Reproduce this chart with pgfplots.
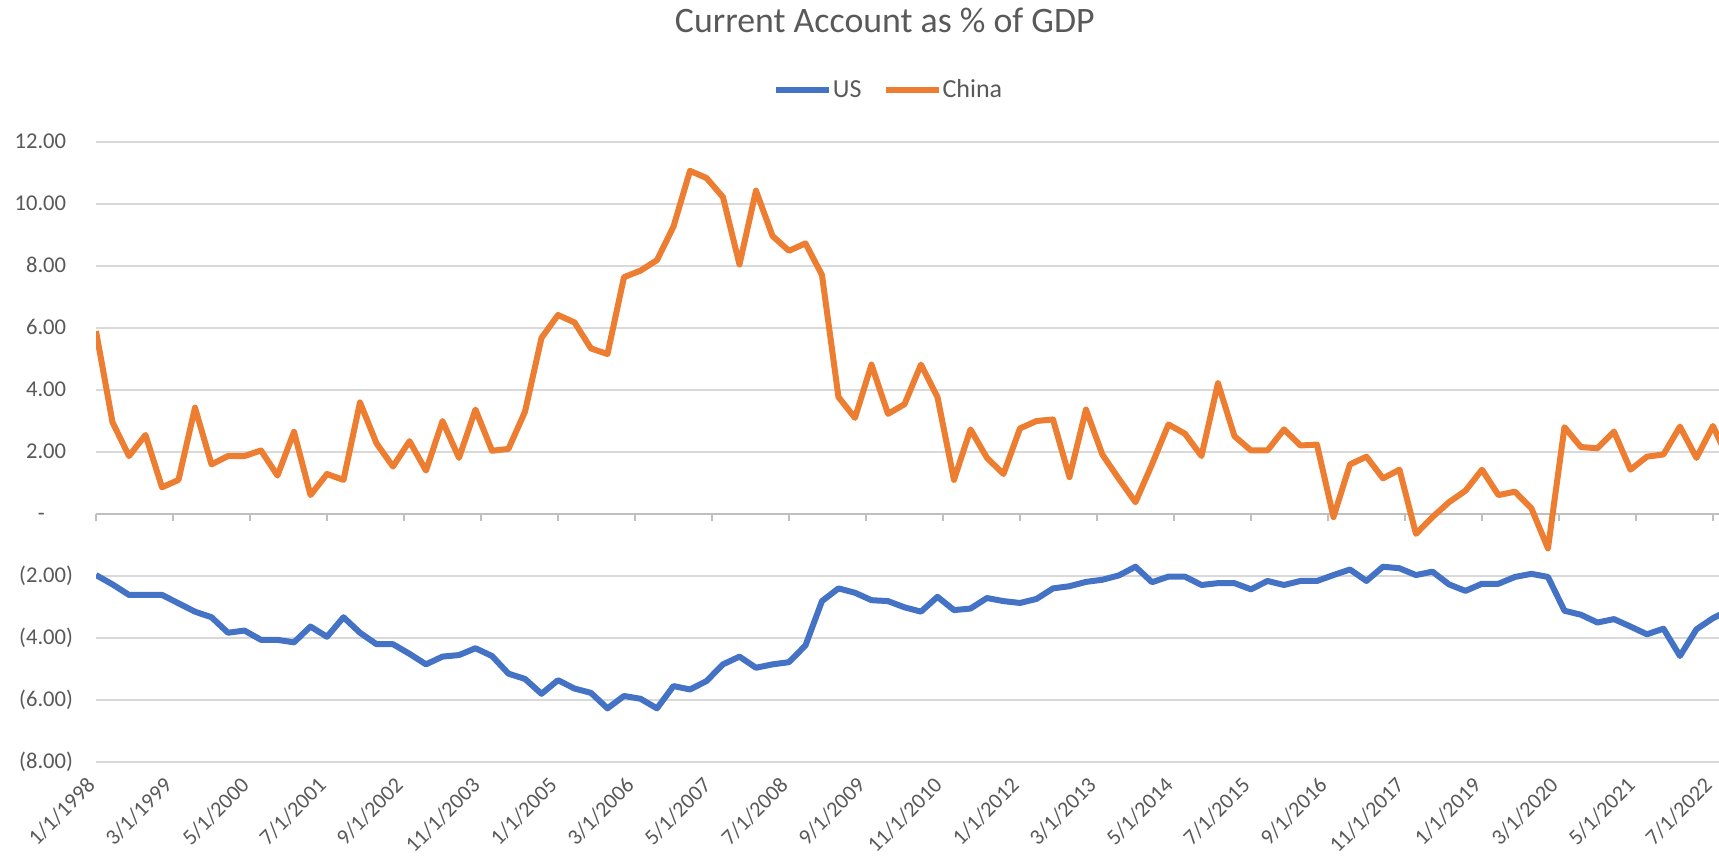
\documentclass[border=0pt]{standalone}
\usepackage{fontspec}
\setmainfont{Carlito}
\usepackage{pgfplots}
\usepackage{pgfplotstable}
\pgfplotsset{compat=1.18}
\definecolor{usblue}{HTML}{4472C4}
\definecolor{cnorange}{HTML}{ED7D31}
\definecolor{txtgray}{HTML}{595959}
\definecolor{gridgray}{HTML}{D9D9D9}
\definecolor{axisgray}{HTML}{BFBFBF}

\pgfplotstableread{
m us china
0 -1.97 5.90
3 -2.27 2.96
6 -2.61 1.87
9 -2.61 2.55
12 -2.61 0.86
15 -2.88 1.10
18 -3.15 3.43
21 -3.33 1.60
24 -3.83 1.87
27 -3.76 1.87
30 -4.06 2.05
33 -4.06 1.24
36 -4.14 2.65
39 -3.63 0.61
42 -3.96 1.29
45 -3.33 1.10
48 -3.83 3.60
51 -4.20 2.28
54 -4.20 1.53
57 -4.51 2.35
60 -4.85 1.40
63 -4.60 3.00
66 -4.55 1.81
69 -4.33 3.37
72 -4.58 2.04
75 -5.15 2.10
78 -5.32 3.30
81 -5.80 5.68
84 -5.36 6.42
87 -5.63 6.18
90 -5.77 5.34
93 -6.27 5.16
96 -5.87 7.64
99 -5.96 7.85
102 -6.27 8.19
105 -5.55 9.27
108 -5.66 11.07
111 -5.39 10.84
114 -4.85 10.22
117 -4.60 8.05
120 -4.96 10.43
123 -4.85 8.97
126 -4.78 8.49
129 -4.24 8.73
132 -2.81 7.71
135 -2.40 3.77
138 -2.54 3.10
141 -2.78 4.82
144 -2.81 3.23
147 -3.01 3.54
150 -3.15 4.82
153 -2.67 3.77
156 -3.10 1.10
159 -3.05 2.73
162 -2.71 1.81
165 -2.81 1.29
168 -2.87 2.76
171 -2.74 3.00
174 -2.40 3.05
177 -2.33 1.19
180 -2.19 3.37
183 -2.12 1.91
186 -1.98 1.13
189 -1.70 0.38
192 -2.20 1.60
195 -2.02 2.89
198 -2.02 2.59
201 -2.29 1.87
204 -2.23 4.22
207 -2.23 2.51
210 -2.43 2.05
213 -2.16 2.05
216 -2.29 2.73
219 -2.16 2.21
222 -2.16 2.24
225 -1.97 -0.10
228 -1.79 1.60
231 -2.16 1.85
234 -1.70 1.15
237 -1.75 1.43
240 -1.97 -0.64
243 -1.86 -0.10
246 -2.27 0.38
249 -2.48 0.75
252 -2.25 1.43
255 -2.25 0.61
258 -2.03 0.72
261 -1.93 0.18
264 -2.03 -1.11
267 -3.12 2.80
270 -3.25 2.16
273 -3.50 2.12
276 -3.39 2.66
279 -3.63 1.43
282 -3.88 1.85
285 -3.70 1.92
288 -4.58 2.82
291 -3.72 1.81
294 -3.36 2.84
297 -3.10 1.70
}\cadata

\begin{document}
\begin{tikzpicture}
\path[use as bounding box] (-48pt,-51pt) rectangle (811.5pt,381pt);
% zero axis line with tick marks
\begin{axis}[
  width=811.5pt, height=310pt, scale only axis,
  xmin=0, xmax=295.1, ymin=-8, ymax=12,
  axis x line=middle, axis y line=none,
  x axis line style={-, color=axisgray, line width=1pt},
  xtick={0,14,...,294}, xticklabels={},
  ytick=\empty,
  major tick length=3.5pt,
  x tick style={color=axisgray, line width=1pt, yshift=-1.75pt},
]
\addplot[draw=none] coordinates {(0,0)};
\end{axis}
% main axis
\begin{axis}[
  width=811.5pt, height=310pt, scale only axis,
  xmin=0, xmax=295.1, ymin=-8, ymax=12,
  axis lines=left,
  axis line style={draw=none},
  major tick length=0pt,
  ytick={-8,-6,-4,-2,2,4,6,8,10,12},
  yticklabels={(8.00),(6.00),(4.00),(2.00),2.00\phantom{)},4.00\phantom{)},6.00\phantom{)},8.00\phantom{)},10.00\phantom{)},12.00\phantom{)}},
  extra y ticks={0},
  extra y tick labels={-\hspace{0.95em}\phantom{)}},
  extra y tick style={grid=none},
  ymajorgrids,
  grid style={gridgray, line width=1pt},
  yticklabel style={anchor=east, inner sep=0pt, xshift=-11.3pt, font=\fontsize{11.3}{13}\selectfont, text=txtgray},
  xtick={0,14,...,294},
  xticklabels={1/1/1998,3/1/1999,5/1/2000,7/1/2001,9/1/2002,11/1/2003,1/1/2005,3/1/2006,5/1/2007,7/1/2008,9/1/2009,11/1/2010,1/1/2012,3/1/2013,5/1/2014,7/1/2015,9/1/2016,11/1/2017,1/1/2019,3/1/2020,5/1/2021,7/1/2022},
  xticklabel style={xshift=-1.5pt, yshift=-9pt, rotate=45, anchor=east, inner sep=1pt, font=\fontsize{11}{13}\selectfont, text=txtgray},
  legend columns=2,
  legend style={at={(0.488,1.0836)}, anchor=center, draw=none, fill=none,
    font=\fontsize{13}{15}\selectfont, text=txtgray,
    nodes={inner sep=0.5pt},
    /tikz/every even column/.append style={column sep=10pt}},
  legend image code/.code={\draw[#1, line cap=butt] (0pt,0pt) -- (26.5pt,0pt);},
]
\addplot[usblue, line width=3pt, line join=round] table[x=m, y=us] {\cadata};
\addplot[cnorange, line width=3pt, line join=round] table[x=m, y=china] {\cadata};
\legend{US, China}
\end{axis}
\node[anchor=base, inner sep=0pt, font=\fontsize{17.9}{20}\selectfont, text=txtgray] at (394.4pt,364.5pt) {Current Account as \% of GDP};
\end{tikzpicture}
\end{document}
